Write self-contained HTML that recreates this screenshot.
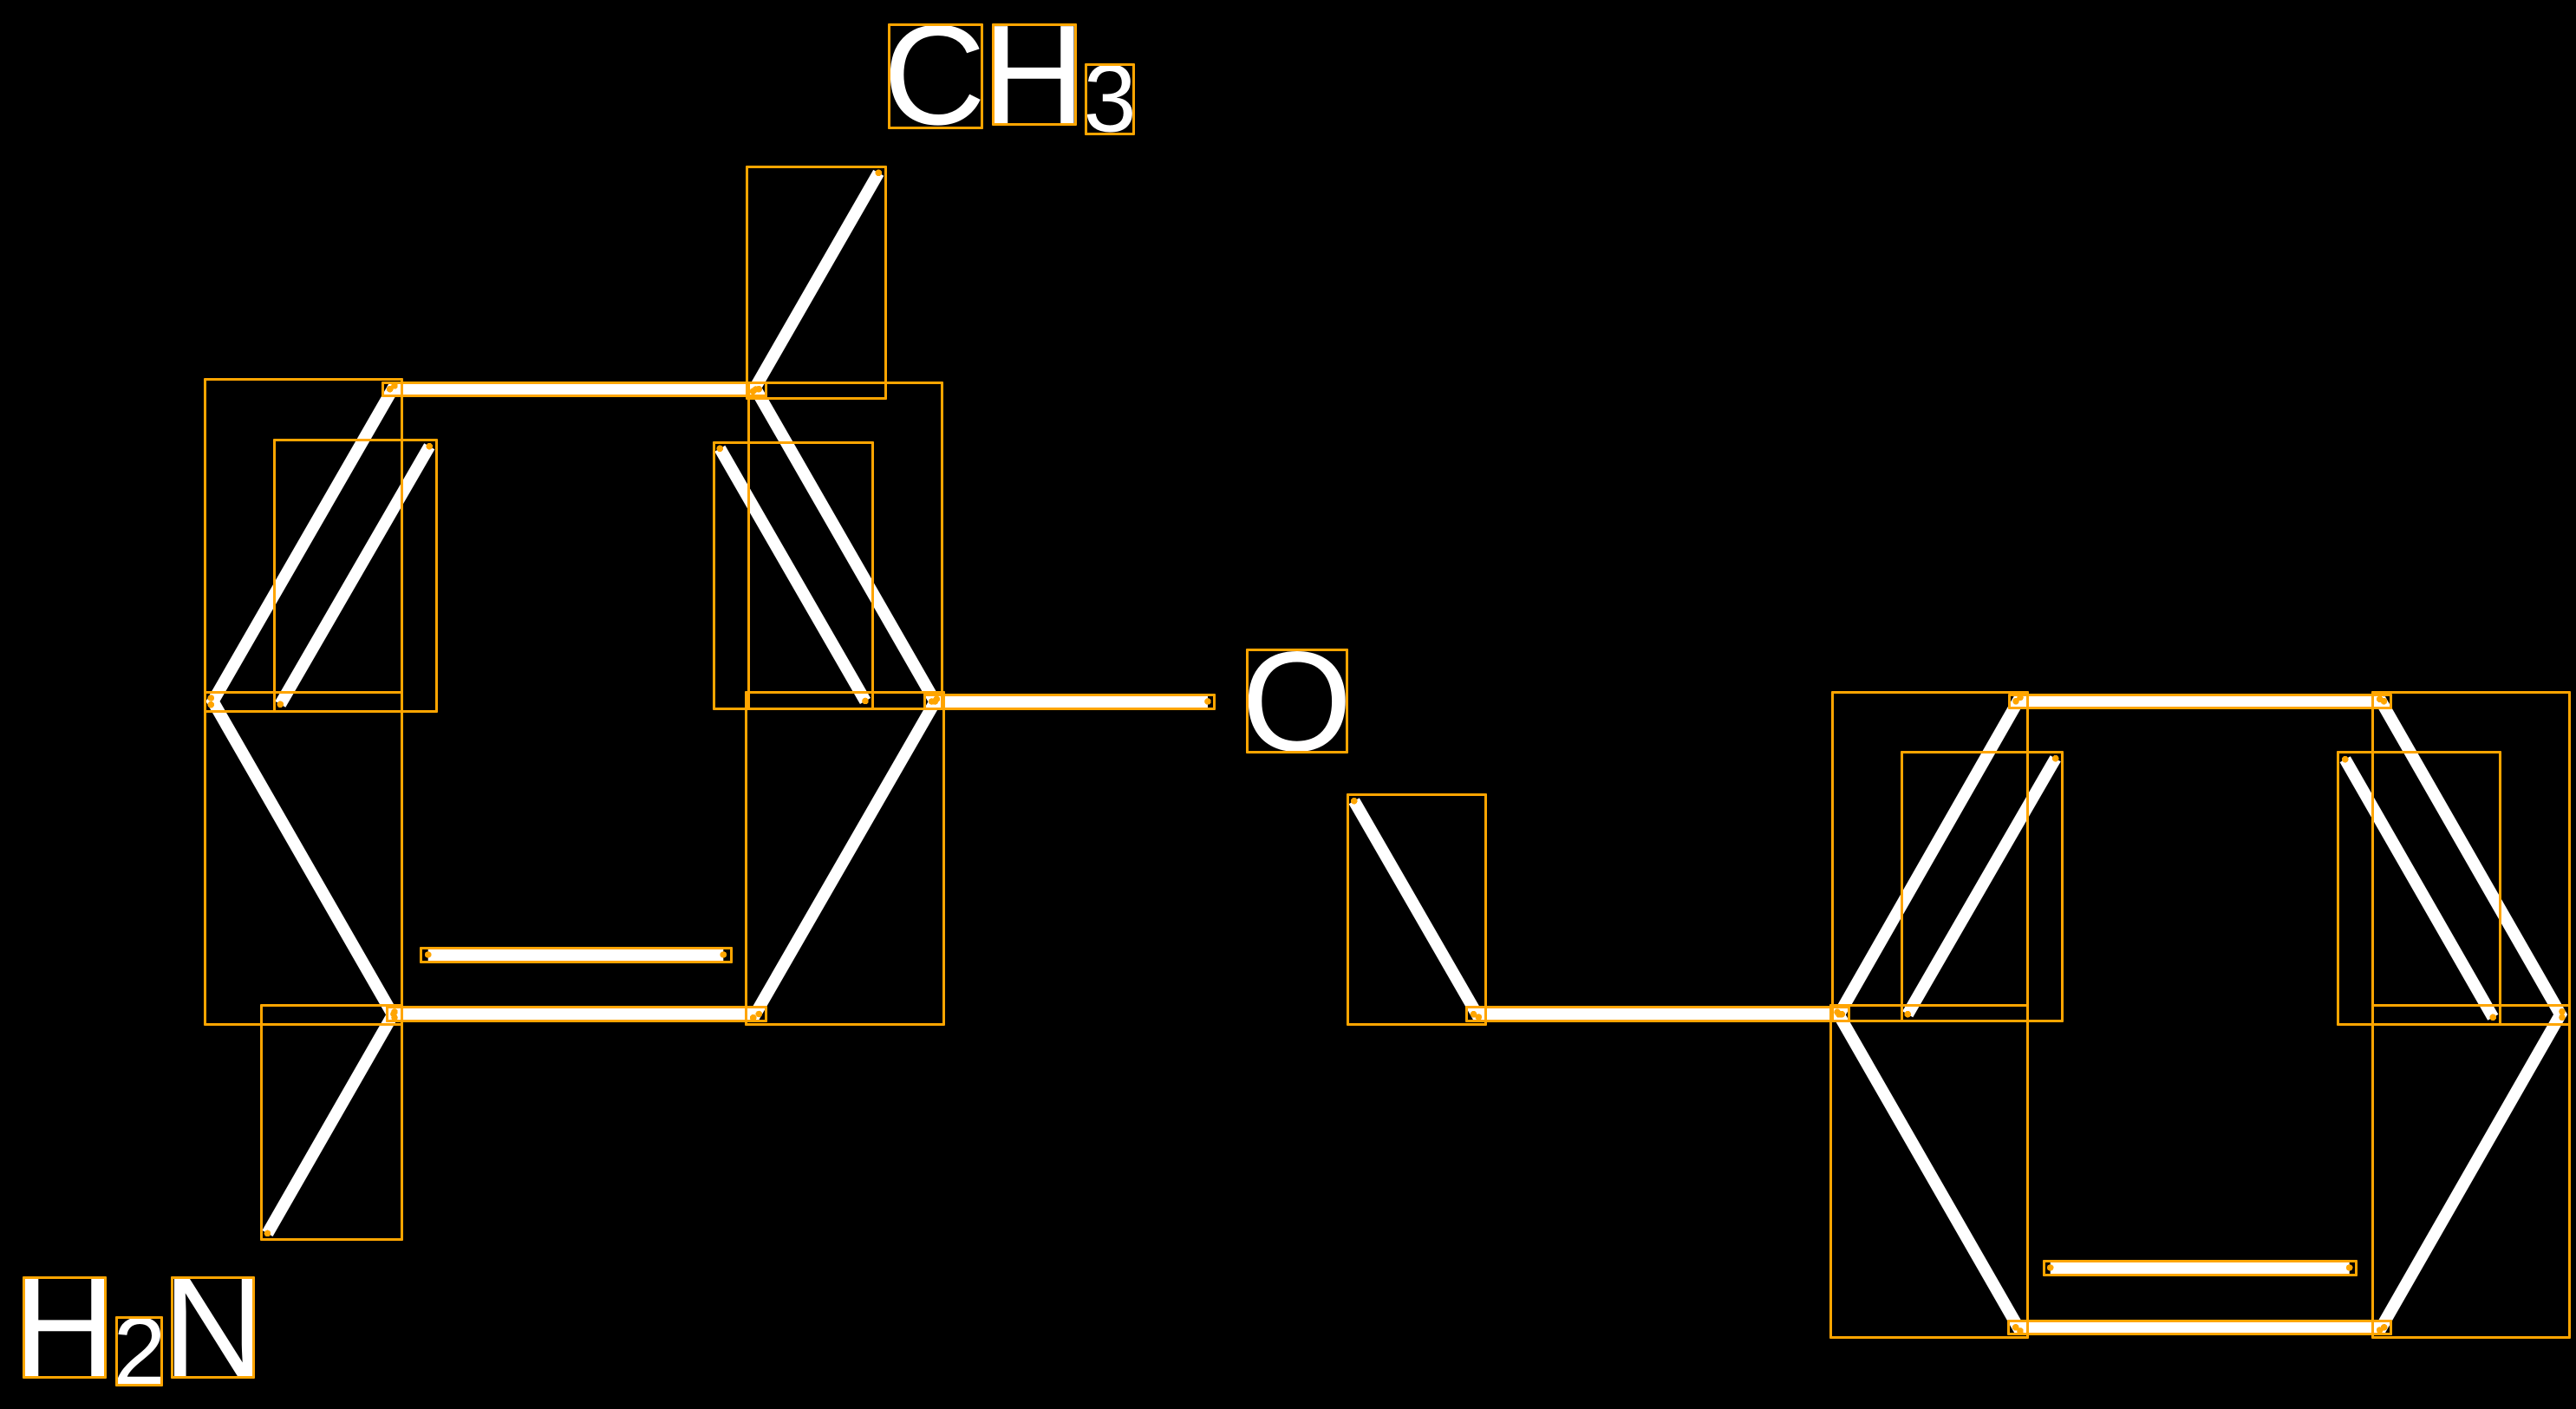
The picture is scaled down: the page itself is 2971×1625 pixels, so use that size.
<!DOCTYPE html>
<html>
<head>
<meta charset="utf-8">
<style>
html,body{margin:0;padding:0;background:#000;width:2971px;height:1625px;overflow:hidden}
svg{display:block}
text{font-family:"Liberation Sans",sans-serif;fill:#fff}
.b{font-size:164px}
.s{font-size:110px}
#bonds line{stroke:#fff;stroke-width:14;stroke-linecap:butt}
#boxes rect{fill:none;stroke:#FFA500;stroke-width:3;stroke-linejoin:round;shape-rendering:crispEdges}
#dots circle{fill:#FFA500;shape-rendering:crispEdges}
</style>
</head>
<body>
<svg xmlns="http://www.w3.org/2000/svg" width="2971" height="1625" viewBox="0 0 2971 1625">
<rect x="0" y="0" width="2971" height="1625" fill="#000"/>
<g id="bonds">
<line x1="449.7" y1="448.7" x2="875.3" y2="448.7"/>
<line x1="455" y1="445" x2="243.3" y2="812.7"/>
<line x1="495.3" y1="514.7" x2="323.3" y2="812.3"/>
<line x1="243.3" y1="805" x2="455" y2="1173.7"/>
<line x1="454" y1="1169.5" x2="875.3" y2="1169.5"/>
<line x1="493.7" y1="1101" x2="834.3" y2="1101"/>
<line x1="871.7" y1="449" x2="1078.3" y2="809"/>
<line x1="830.3" y1="517.3" x2="998" y2="808.5"/>
<line x1="1080.3" y1="806.3" x2="868.7" y2="1173.7"/>
<line x1="1013.3" y1="199.3" x2="868.5" y2="451.3"/>
<line x1="1074.7" y1="809" x2="1393" y2="809"/>
<line x1="455" y1="1167" x2="308.5" y2="1422.5"/>
<line x1="1561.7" y1="923.7" x2="1705.3" y2="1173"/>
<line x1="1699.5" y1="1169.7" x2="2124.3" y2="1169.7"/>
<line x1="2325" y1="808.7" x2="2749.5" y2="808.7"/>
<line x1="2330" y1="804.3" x2="2121" y2="1170"/>
<line x1="2370.7" y1="874.7" x2="2200.2" y2="1169.7"/>
<line x1="2119" y1="1167.3" x2="2330" y2="1535"/>
<line x1="2324.7" y1="1530.8" x2="2749.7" y2="1530.8"/>
<line x1="2364.7" y1="1462" x2="2709.7" y2="1462"/>
<line x1="2744.7" y1="806.3" x2="2955" y2="1173.3"/>
<line x1="2704.7" y1="875.7" x2="2875.3" y2="1173.3"/>
<line x1="2955" y1="1166.7" x2="2744.7" y2="1534"/>
</g>
<g id="labels">
<text class="b" x="1018.5" y="143">C</text>
<text class="b" x="1133.5" y="143">H</text>
<text class="s" x="1249.5" y="151.5">3</text>
<text class="b" x="15.5" y="1587.5">H</text>
<text class="s" x="130.5" y="1596">2</text>
<text class="b" x="187.5" y="1587.5">N</text>
<text class="b" x="1432" y="865.5">O</text>
</g>
<g id="boxes">
<rect x="441.5" y="441.5" width="442" height="15"/>
<rect x="236.5" y="437.5" width="227" height="383"/>
<rect x="316.5" y="507.5" width="187" height="313"/>
<rect x="236.5" y="798.5" width="227" height="383"/>
<rect x="446.5" y="1161.5" width="437" height="16"/>
<rect x="485.5" y="1093.5" width="358" height="16"/>
<rect x="863.5" y="441.5" width="223" height="376"/>
<rect x="823.5" y="510.5" width="183" height="307"/>
<rect x="860.5" y="798.5" width="228" height="383"/>
<rect x="861.5" y="192.5" width="160" height="267"/>
<rect x="1066.5" y="801.5" width="334" height="16"/>
<rect x="301.5" y="1159.5" width="162" height="270"/>
<rect x="1554.5" y="916.5" width="159" height="265"/>
<rect x="1691.5" y="1161.5" width="441" height="16"/>
<rect x="2317.5" y="801.5" width="440" height="15"/>
<rect x="2113.5" y="798.5" width="225" height="379"/>
<rect x="2193.5" y="867.5" width="185" height="310"/>
<rect x="2111.5" y="1159.5" width="227" height="383"/>
<rect x="2316.5" y="1523.5" width="441" height="15"/>
<rect x="2357.5" y="1454.5" width="360" height="16"/>
<rect x="2736.5" y="798.5" width="227" height="383"/>
<rect x="2696.5" y="867.5" width="187" height="314"/>
<rect x="2736.5" y="1159.5" width="227" height="383"/>
<rect x="1025.5" y="28.5" width="107" height="119"/>
<rect x="1145.5" y="28.5" width="95" height="115"/>
<rect x="1252.5" y="74.5" width="55" height="80"/>
<rect x="27.5" y="1473.5" width="94" height="115"/>
<rect x="134.5" y="1519.5" width="52" height="78"/>
<rect x="198.5" y="1473.5" width="94" height="115"/>
<rect x="1438.5" y="749.5" width="115" height="118"/>
</g>
<g id="dots">
<circle cx="449.7" cy="448.7" r="3.8"/><circle cx="875.3" cy="448.7" r="3.8"/>
<circle cx="455" cy="445" r="3.8"/><circle cx="243.3" cy="812.7" r="3.8"/>
<circle cx="495.3" cy="514.7" r="3.8"/><circle cx="323.3" cy="812.3" r="3.8"/>
<circle cx="243.3" cy="805" r="3.8"/><circle cx="455" cy="1173.7" r="3.8"/>
<circle cx="454" cy="1169.5" r="3.8"/><circle cx="875.3" cy="1169.5" r="3.8"/>
<circle cx="493.7" cy="1101" r="3.8"/><circle cx="834.3" cy="1101" r="3.8"/>
<circle cx="871.7" cy="449" r="3.8"/><circle cx="1078.3" cy="809" r="3.8"/>
<circle cx="830.3" cy="517.3" r="3.8"/><circle cx="998" cy="808.5" r="3.8"/>
<circle cx="1080.3" cy="806.3" r="3.8"/><circle cx="868.7" cy="1173.7" r="3.8"/>
<circle cx="1013.3" cy="199.3" r="3.8"/><circle cx="868.5" cy="451.3" r="3.8"/>
<circle cx="1074.7" cy="809" r="3.8"/><circle cx="1393" cy="809" r="3.8"/>
<circle cx="455" cy="1167" r="3.8"/><circle cx="308.5" cy="1422.5" r="3.8"/>
<circle cx="1561.7" cy="923.7" r="3.8"/><circle cx="1705.3" cy="1173" r="3.8"/>
<circle cx="1699.5" cy="1169.7" r="3.8"/><circle cx="2124.3" cy="1169.7" r="3.8"/>
<circle cx="2325" cy="808.7" r="3.8"/><circle cx="2749.5" cy="808.7" r="3.8"/>
<circle cx="2330" cy="804.3" r="3.8"/><circle cx="2121" cy="1170" r="3.8"/>
<circle cx="2370.7" cy="874.7" r="3.8"/><circle cx="2200.2" cy="1169.7" r="3.8"/>
<circle cx="2119" cy="1167.3" r="3.8"/><circle cx="2330" cy="1535" r="3.8"/>
<circle cx="2324.7" cy="1530.8" r="3.8"/><circle cx="2749.7" cy="1530.8" r="3.8"/>
<circle cx="2364.7" cy="1462" r="3.8"/><circle cx="2709.7" cy="1462" r="3.8"/>
<circle cx="2744.7" cy="806.3" r="3.8"/><circle cx="2955" cy="1173.3" r="3.8"/>
<circle cx="2704.7" cy="875.7" r="3.8"/><circle cx="2875.3" cy="1173.3" r="3.8"/>
<circle cx="2955" cy="1166.7" r="3.8"/><circle cx="2744.7" cy="1534" r="3.8"/>
</g>
</svg>
</body>
</html>
